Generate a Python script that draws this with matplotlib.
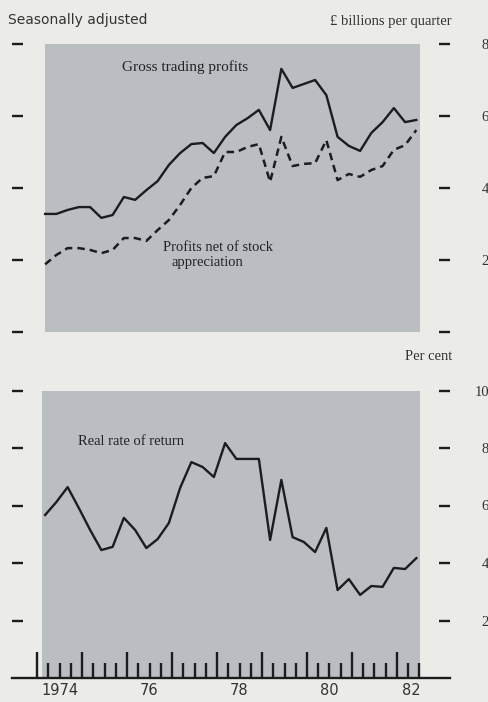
import matplotlib.pyplot as plt
import numpy as np

# quarterly data, 1974 Q1 - 1982 Q2
start_year = 1974
n_quarters = 34

gross_profits = [3.28, 3.28, 3.39, 3.47, 3.47, 3.17, 3.25, 3.75, 3.67, 3.94,
                 4.19, 4.64, 4.97, 5.22, 5.25, 4.97, 5.42, 5.75, 5.94, 6.17,
                 5.61, 7.31, 6.78, 6.89, 7.00, 6.58, 5.42, 5.17, 5.03, 5.53,
                 5.83, 6.22, 5.83, 5.89]
net_profits = [1.88, 2.14, 2.33, 2.33, 2.28, 2.19, 2.28, 2.61, 2.61, 2.53,
               2.83, 3.11, 3.53, 4.00, 4.28, 4.33, 5.00, 5.00, 5.14, 5.22,
               4.17, 5.42, 4.61, 4.67, 4.69, 5.33, 4.22, 4.39, 4.31, 4.50,
               4.61, 5.06, 5.19, 5.61]
real_return = [5.67, 6.12, 6.64, 5.91, 5.15, 4.45, 4.56, 5.57, 5.15, 4.52,
               4.83, 5.39, 6.61, 7.51, 7.34, 6.99, 8.17, 7.62, 7.62, 7.62,
               4.80, 6.89, 4.90, 4.73, 4.38, 5.22, 3.06, 3.44, 2.89, 3.20,
               3.17, 3.83, 3.79, 4.17]

top_ticks = [0, 2, 4, 6, 8]
top_labels = ['', '2', '4', '6', '8']
bot_ticks = [2, 4, 6, 8, 10]
bot_labels = ['2', '4', '6', '8', '10']
year_labels = ['1974', '76', '78', '80', '82']
year_pos = [1974.5, 1976.5, 1978.5, 1980.5, 1982.32]

t = start_year + 0.18 + 0.25 * np.arange(n_quarters)

bg = '#ebebe8'
shade = '#babec3'
ink = '#1c1c1c'
W, H = 489, 702
serif = 'Liberation Serif'

fig = plt.figure(figsize=(W / 100, H / 100), dpi=100, facecolor=bg)
ax1 = fig.add_axes([12 / W, 1 - 332 / H, 438 / W, 288 / H])
ax2 = fig.add_axes([12 / W, 1 - 678 / H, 438 / W, 287.5 / H])

xlim = (1973.444, 1983.178)
shade_end = 1982.52

for ax in (ax1, ax2):
    ax.set_facecolor('none')
    ax.set_xlim(*xlim)
    for s in ax.spines.values():
        s.set_visible(False)
    ax.tick_params(axis='y', left=True, right=True, labelleft=False, labelright=True,
                   direction='in', length=8, width=1.7, color=ink, pad=28,
                   labelsize=10.5, labelcolor='#333333')

# top panel
ax1.set_ylim(0, 8)
ax1.axvspan(t[0], shade_end, ymax=1.003, color=shade, zorder=0, lw=0)
ax1.plot(t, gross_profits, color=ink, lw=1.7)
ax1.plot(t, net_profits, color=ink, lw=1.8, dashes=(3.0, 2.0))
ax1.set_yticks(top_ticks)
ax1.set_yticklabels(top_labels, family=serif, ha='right')
ax1.set_xticks([])
ax1.text(1977.29, 7.36, 'Gross trading profits', family=serif, fontsize=11,
         ha='center', va='center', color='#222222')
ax1.text(1976.8, 2.36, 'Profits net of stock', family=serif, fontsize=10.5,
         ha='left', va='center', color='#222222')
ax1.text(1976.98, 1.94, 'appreciation', family=serif, fontsize=10.5,
         ha='left', va='center', color='#222222')

# bottom panel
ax2.set_ylim(0, 10)
ax2.axvspan(1974.11, shade_end, color=shade, zorder=0, lw=0)
ax2.plot(t, real_return, color=ink, lw=1.7)
ax2.set_yticks(bot_ticks)
ax2.set_yticklabels(bot_labels, family=serif, ha='right')
ax2.text(1974.91, 8.21, 'Real rate of return', family=serif, fontsize=10.5,
         ha='left', va='center', color='#222222')

ax2.spines['bottom'].set_visible(True)
ax2.spines['bottom'].set_linewidth(1.7)
ax2.spines['bottom'].set_color(ink)
ax2.set_xticks(np.arange(1974, 1983))
ax2.set_xticks([q for q in np.arange(1974, 1982.51, 0.25) if q % 1 != 0], minor=True)
ax2.tick_params(axis='x', which='major', direction='in', length=19, width=1.7,
                color=ink, labelbottom=False)
ax2.tick_params(axis='x', which='minor', direction='in', length=11, width=1.7,
                color=ink)
for lab, x in zip(year_labels, year_pos):
    ax2.text(x, -0.42, lab, family='DejaVu Sans', fontsize=10.5, ha='center',
             va='center', color='#333333')

fig.text(8 / W, 1 - 20 / H, 'Seasonally adjusted', family='DejaVu Sans',
         fontsize=10, ha='left', va='center', color='#333333')
fig.text(452 / W, 1 - 21 / H, '£ billions per quarter', family=serif,
         fontsize=10.5, ha='right', va='center', color='#333333')
fig.text(452 / W, 1 - 356 / H, 'Per cent', family=serif,
         fontsize=10.5, ha='right', va='center', color='#333333')

fig.savefig('out.png', dpi=100, facecolor=bg)
